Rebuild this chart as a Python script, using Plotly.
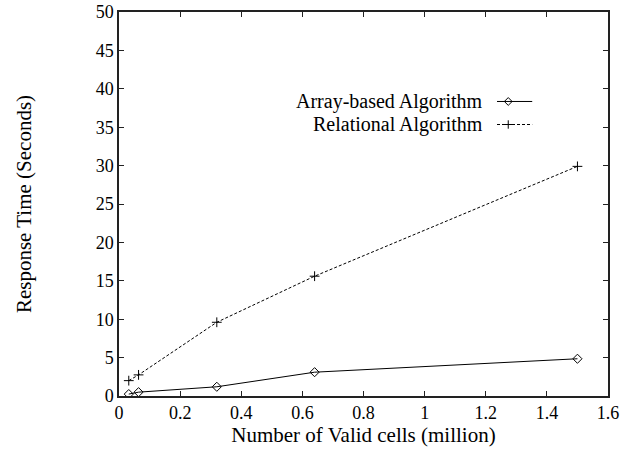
import plotly.graph_objects as go

# Dataset sizes (million valid cells) and measured response times (seconds)
cells = [0.032, 0.064, 0.32, 0.64, 1.5]
array_based = [0.25, 0.5, 1.2, 3.1, 4.85]
relational = [2.0, 2.75, 9.6, 15.6, 29.9]

series_names = ["Array-based Algorithm", "Relational Algorithm"]

FONT = "Liberation Serif"
TEXT_SIZE = 21
KEY_SIZE = 20
TICK_SIZE = 18

fig = go.Figure()

fig.add_trace(go.Scatter(
    x=cells, y=array_based, mode="lines+markers", name=series_names[0],
    line=dict(color="black", width=1),
    marker=dict(symbol="diamond-open", size=7, color="black", line=dict(width=1)),
    showlegend=False,
))
fig.add_trace(go.Scatter(
    x=cells, y=relational, mode="lines+markers", name=series_names[1],
    line=dict(color="black", width=1, dash="3px,2px"),
    marker=dict(symbol="cross-thin-open", size=7, color="black", line=dict(width=1, color="black")),
    showlegend=False,
))

# Key in the gnuplot style: right-aligned labels with a line sample after them
key_rows = [(0.767, "solid", "diamond-open"), (0.707, "3px,2px", "cross-thin-open")]
for name, (yk, dash, sym) in zip(series_names, key_rows):
    fig.add_trace(go.Scatter(
        x=[0.773, 0.845], y=[yk, yk], xaxis="x2", yaxis="y2", mode="lines",
        line=dict(color="black", width=1, dash=dash), showlegend=False, hoverinfo="skip",
    ))
    fig.add_trace(go.Scatter(
        x=[0.796], y=[yk], xaxis="x2", yaxis="y2", mode="markers",
        marker=dict(symbol=sym, size=6, color="black", line=dict(width=1, color="black")),
        showlegend=False, hoverinfo="skip",
    ))
    fig.add_annotation(
        x=0.748, y=yk, xref="x2 domain", yref="y2 domain", text=name,
        showarrow=False, xanchor="right", yanchor="middle",
        font=dict(family=FONT, size=KEY_SIZE, color="black"),
    )

axis_common = dict(
    showline=True, linecolor="#222", linewidth=1.5, mirror="allticks",
    ticks="inside", ticklen=5, tickcolor="#222", tickwidth=1,
    showgrid=False, zeroline=False, automargin=False,
    tickfont=dict(family=FONT, size=TICK_SIZE, color="black"),
)

fig.update_layout(
    width=641, height=449,
    margin=dict(l=119, r=33, t=12, b=53),
    paper_bgcolor="white", plot_bgcolor="white",
    xaxis=dict(range=[0, 1.6], dtick=0.2, tick0=0,
               title=dict(text="Number of Valid cells (million)", standoff=2,
                          font=dict(family=FONT, size=TEXT_SIZE, color="black")),
               **axis_common),
    yaxis=dict(range=[0, 50], dtick=5, tick0=0,
               title=dict(text="Response Time (Seconds)", standoff=58,
                          font=dict(family=FONT, size=TEXT_SIZE, color="black")),
               **axis_common),
    xaxis2=dict(range=[0, 1], overlaying="x", visible=False),
    yaxis2=dict(range=[0, 1], overlaying="y", visible=False),
)

fig.write_html("out.html")
